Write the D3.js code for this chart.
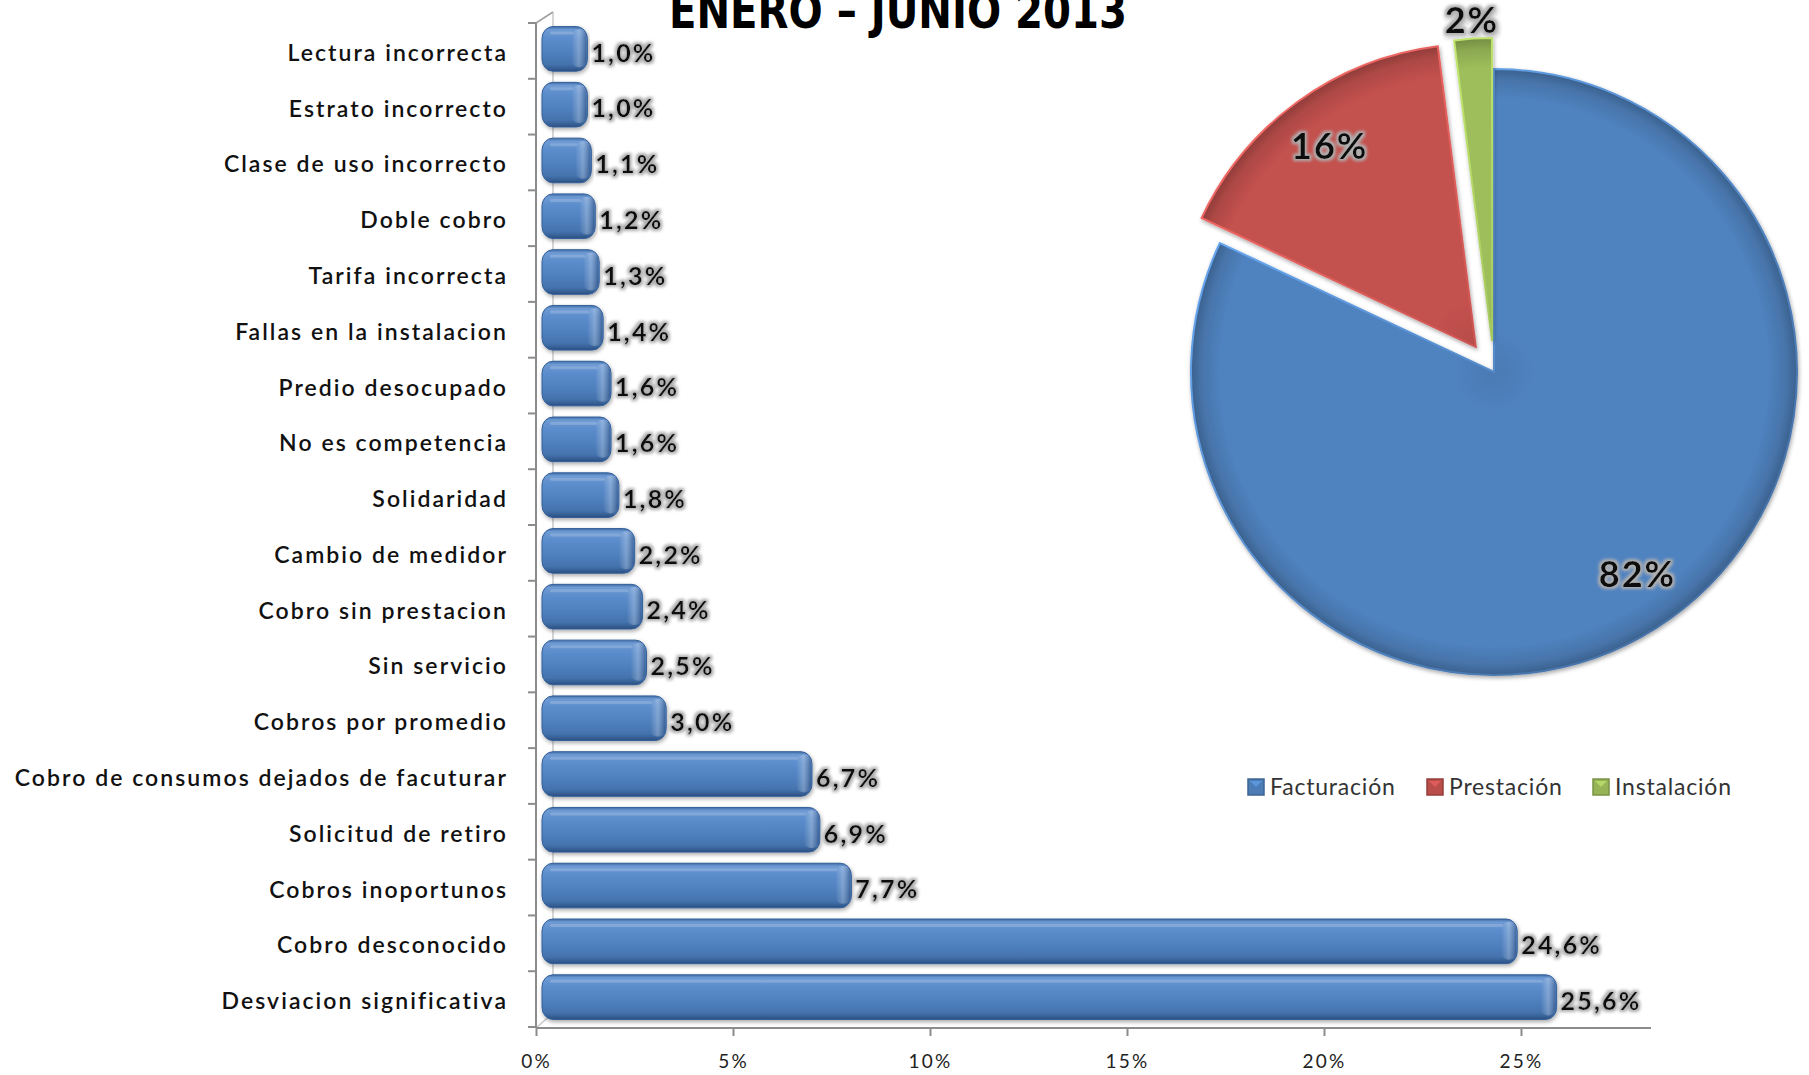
<!DOCTYPE html>
<html><head><meta charset="utf-8">
<script src="https://cdn.jsdelivr.net/npm/d3@7"></script>
<style>body{margin:0;background:#fff;} svg{display:block;}</style>
</head><body>
<svg id="chart" width="1809" height="1075"></svg>
<script>
// ---------- DATA ----------
const title = "ENERO – JUNIO 2013";
const categories = [
  "Lectura incorrecta", "Estrato incorrecto", "Clase de uso incorrecto", "Doble cobro",
  "Tarifa incorrecta", "Fallas en la instalacion", "Predio desocupado", "No es competencia",
  "Solidaridad", "Cambio de medidor", "Cobro sin prestacion", "Sin servicio",
  "Cobros por promedio", "Cobro de consumos dejados de facuturar", "Solicitud de retiro",
  "Cobros inoportunos", "Cobro desconocido", "Desviacion significativa"
];
const values = [1.0, 1.0, 1.1, 1.2, 1.3, 1.4, 1.6, 1.6, 1.8, 2.2, 2.4, 2.5, 3.0, 6.7, 6.9, 7.7, 24.6, 25.6];
const xTickValues = [0, 5, 10, 15, 20, 25];
const pieCategories = ["Facturación", "Prestación", "Instalación"];
const pieValues = [82, 16, 2];
const pieColors = ["#4F81BD", "#C0504D", "#9BBB59"];

// ---------- SETUP ----------
const svg = d3.select("#chart");
const defs = svg.append("defs");

// glow filter for data labels
const glow = defs.append("filter").attr("id", "glow").attr("x", "-20%").attr("y", "-30%").attr("width", "140%").attr("height", "160%");
glow.append("feMorphology").attr("in", "SourceAlpha").attr("operator", "dilate").attr("radius", 2).attr("result", "d");
glow.append("feGaussianBlur").attr("in", "d").attr("stdDeviation", 1.6).attr("result", "b");
glow.append("feFlood").attr("flood-color", "#b0b0b0").attr("result", "c");
glow.append("feComposite").attr("in", "c").attr("in2", "b").attr("operator", "in").attr("result", "g");
const gm = glow.append("feMerge");
gm.append("feMergeNode").attr("in", "g");
gm.append("feMergeNode").attr("in", "SourceGraphic");

// soft shadow
const sh = defs.append("filter").attr("id", "shadow").attr("x", "-5%").attr("y", "-20%").attr("width", "110%").attr("height", "150%");
sh.append("feGaussianBlur").attr("in", "SourceAlpha").attr("stdDeviation", 2).attr("result", "b");
sh.append("feOffset").attr("in", "b").attr("dx", 1).attr("dy", 2).attr("result", "o");
sh.append("feComponentTransfer").attr("in", "o").attr("result", "o2").append("feFuncA").attr("type", "linear").attr("slope", 0.35);
const shm = sh.append("feMerge");
shm.append("feMergeNode").attr("in", "o2");
shm.append("feMergeNode").attr("in", "SourceGraphic");

// bar gradient
const bg = defs.append("linearGradient").attr("id", "barGrad").attr("x1", 0).attr("y1", 0).attr("x2", 0).attr("y2", 1);
[[0, "#3f6da8"], [0.07, "#6f9bd4"], [0.25, "#5c8dcc"], [0.6, "#4f80be"], [0.85, "#4472ad"], [0.95, "#345d92"], [1, "#28497a"]]
  .forEach(([o, c]) => bg.append("stop").attr("offset", o).attr("stop-color", c));
const bcap = defs.append("linearGradient").attr("id", "capGrad").attr("x1", 0).attr("y1", 0).attr("x2", 1).attr("y2", 0);
[[0, "rgba(255,255,255,0)"], [0.5, "rgba(255,255,255,0.25)"], [1, "rgba(20,40,80,0.35)"]]
  .forEach(([o, c]) => bcap.append("stop").attr("offset", o).attr("stop-color", c));

// ---------- TITLE ----------
svg.append("text")
  .attr("x", 898).attr("y", 28)
  .attr("text-anchor", "middle")
  .attr("font-family", "'Liberation Sans Narrow','Arial Narrow','DejaVu Sans Condensed',sans-serif")
  .attr("font-weight", "bold").attr("font-size", 50)
  .attr("textLength", 458).attr("lengthAdjust", "spacingAndGlyphs")
  .attr("fill", "#000").text(title);

// ---------- BAR CHART ----------
const x = d3.scaleLinear().domain([0, 28.3]).range([536, 1651]);
const y = d3.scaleBand().domain(categories).range([23, 1027]).paddingInner(0.2).paddingOuter(0.1);

const gAxis = svg.append("g");
// back wall line
gAxis.append("line").attr("x1", 553).attr("x2", 553).attr("y1", 12).attr("y2", 1013).attr("stroke", "#c8c8c8").attr("stroke-width", 1.5);
gAxis.append("line").attr("x1", 536).attr("x2", 553).attr("y1", 23).attr("y2", 12).attr("stroke", "#a0a0a0").attr("stroke-width", 1.5);
gAxis.append("line").attr("x1", 536).attr("x2", 553).attr("y1", 1028).attr("y2", 1013).attr("stroke", "#c8c8c8").attr("stroke-width", 1.5);
// front axis
gAxis.append("line").attr("x1", 536).attr("x2", 536).attr("y1", 23).attr("y2", 1028).attr("stroke", "#8c8c8c").attr("stroke-width", 2);
// category boundary ticks
d3.range(categories.length + 1).forEach(i => {
  const yy = y.range()[0] + i * y.step();
  gAxis.append("line").attr("x1", 528).attr("x2", 536).attr("y1", yy).attr("y2", yy).attr("stroke", "#8c8c8c").attr("stroke-width", 2);
});

// x axis
const xAxis = d3.axisBottom(x).tickValues(xTickValues).tickFormat(d => d + "%").tickSize(8).tickPadding(19);
const gx = svg.append("g").attr("transform", "translate(0,1028)").call(xAxis);
gx.select(".domain").attr("stroke", "#8c8c8c").attr("stroke-width", 2).attr("d", "M536,0H1651");
gx.selectAll(".tick line").attr("stroke", "#8c8c8c").attr("stroke-width", 2);
gx.selectAll(".tick text")
  .attr("font-family", "Lato, 'Open Sans', sans-serif").attr("font-size", 19)
  .attr("letter-spacing", 2.2).attr("fill", "#222");

// category labels
svg.append("g").selectAll("text").data(categories).join("text")
  .attr("x", 508).attr("y", d => y(d) + y.bandwidth() / 2 + 2)
  .attr("dy", "0.35em").attr("text-anchor", "end")
  .attr("font-family", "Lato, 'Open Sans', sans-serif").attr("font-size", 23)
  .attr("font-weight", 600).attr("letter-spacing", 2.05)
  .attr("fill", "#111").text(d => d);

// bars
const gb = svg.append("g");
const barData = categories.map((c, i) => ({ c, v: values[i] }));
const bars = gb.selectAll("g.bar").data(barData).join("g").attr("class", "bar").attr("filter", "url(#shadow)");
bars.append("rect")
  .attr("x", x(0) + 6).attr("y", d => y(d.c) - 2)
  .attr("width", d => x(d.v) + 12 - (x(0) + 6)).attr("height", y.bandwidth())
  .attr("rx", 11).attr("ry", 12)
  .attr("fill", "url(#barGrad)").attr("stroke", "#35609a").attr("stroke-width", 1);
bars.append("rect")
  .attr("x", d => x(d.v) - 4).attr("y", d => y(d.c) + 1)
  .attr("width", 15).attr("height", y.bandwidth() - 7)
  .attr("rx", 7).attr("fill", "url(#capGrad)");
bars.append("rect")
  .attr("x", x(0) + 14).attr("y", d => y(d.c) + 3)
  .attr("width", d => Math.max(0, x(d.v) - x(0) - 16)).attr("height", 3)
  .attr("rx", 1.5).attr("fill", "rgba(255,255,255,0.18)");

// value labels
const fmt = v => d3.format(".1f")(v).replace(".", ",") + "%";
svg.append("g").selectAll("text").data(barData).join("text")
  .attr("x", d => x(d.v) + 16).attr("y", d => y(d.c) + y.bandwidth() / 2 + 2)
  .attr("dy", "0.35em")
  .attr("font-family", "Lato, 'Open Sans', sans-serif").attr("font-size", 25)
  .attr("font-weight", "bold").attr("letter-spacing", 2.2)
  .attr("fill", "#111").attr("filter", "url(#glow)")
  .text(d => fmt(d.v));

// ---------- PIE ----------
const cx = 1494, cy = 372, R = 303;
const pie = d3.pie().sort(null).value(d => d)(pieValues);
const arc = d3.arc().innerRadius(0).outerRadius(R);
const explode = i => (i === 0 ? 0 : 31);

pieColors.forEach((c, i) => {
  const rg = defs.append("radialGradient").attr("id", "pg" + i).attr("gradientUnits", "userSpaceOnUse")
    .attr("cx", 0).attr("cy", 0).attr("r", R);
  const base = d3.color(c);
  [[0, base.darker(0.15)], [0.15, base.brighter(0.05)], [0.9, base.brighter(0.05)], [0.965, base.darker(0.3)], [1, base.darker(0.8)]]
    .forEach(([o, col]) => rg.append("stop").attr("offset", o).attr("stop-color", col));
  const lg = defs.append("linearGradient").attr("id", "ps" + i).attr("gradientUnits", "userSpaceOnUse")
    .attr("x1", -R).attr("y1", -R).attr("x2", R).attr("y2", R);
  lg.append("stop").attr("offset", 0).attr("stop-color", base.brighter(0.9));
  lg.append("stop").attr("offset", 0.5).attr("stop-color", base.brighter(0.2));
  lg.append("stop").attr("offset", 1).attr("stop-color", base.darker(0.6));
});

const gp = svg.append("g").attr("transform", `translate(${cx},${cy})`);
pie.forEach((p, i) => {
  const mid = (p.startAngle + p.endAngle) / 2;
  const dx = Math.sin(mid) * explode(i), dy = -Math.cos(mid) * explode(i);
  const g = gp.append("g").attr("transform", `translate(${dx},${dy})`).attr("filter", "url(#shadow)");
  g.append("path").attr("d", arc(p)).attr("fill", `url(#pg${i})`)
    .attr("stroke", `url(#ps${i})`).attr("stroke-width", 2);
  const frac = p.value / d3.sum(pieValues);
  const lr = frac < 0.05 ? R * 1.06 : R * 0.82;
  const la = frac > 0.5 ? mid - 0.05 : mid;
  g.append("text")
    .attr("x", Math.sin(la) * lr).attr("y", -Math.cos(la) * lr)
    .attr("dy", "0.35em").attr("text-anchor", "middle")
    .attr("font-family", "Lato, 'Open Sans', sans-serif").attr("font-size", 36)
    .attr("font-weight", "bold").attr("letter-spacing", 2)
    .attr("fill", "#111").attr("filter", "url(#glow)")
    .text(Math.round(frac * 100) + "%");
});

// ---------- LEGEND ----------
const legendX = [1248, 1427, 1593];
const gl = svg.append("g");
pieCategories.forEach((c, i) => {
  const base = d3.color(pieColors[i]);
  gl.append("rect").attr("x", legendX[i]).attr("y", 779).attr("width", 16).attr("height", 16)
    .attr("fill", base.darker(0.1)).attr("stroke", base.darker(0.7)).attr("stroke-width", 1.5);
  gl.append("path").attr("d", `M${legendX[i] + 2},${781}L${legendX[i] + 8},${787}L${legendX[i] + 14},${781}Z`)
    .attr("fill", base.brighter(0.4));
  gl.append("text").attr("x", legendX[i] + 22).attr("y", 787).attr("dy", "0.35em")
    .attr("font-family", "Lato, 'Open Sans', sans-serif").attr("font-size", 23)
    .attr("letter-spacing", 0.8).attr("fill", "#333").text(c);
});
</script>
</body></html>
